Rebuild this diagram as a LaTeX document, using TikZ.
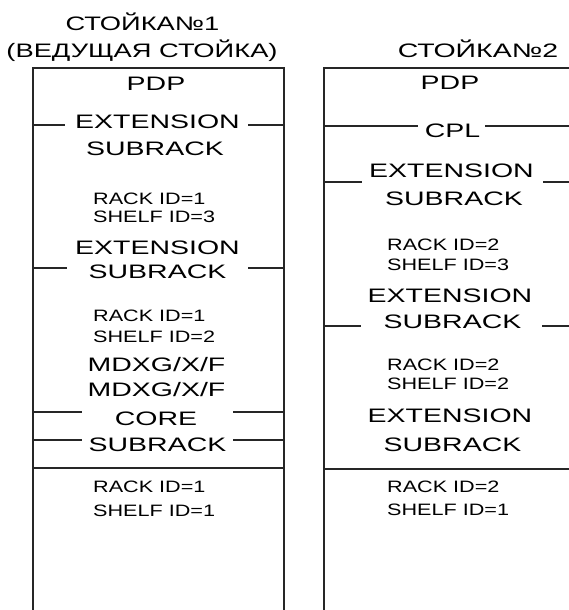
\documentclass[tikz,border=0pt]{standalone}
\usepackage{fontspec}
\setmainfont{Liberation Sans}
\newfontfamily\bigfam{Liberation Sans}[FakeStretch=1.46]
\newfontfamily\titlefam{Liberation Sans}[FakeStretch=1.40]
\newfontfamily\smallfam{Liberation Sans}[FakeStretch=1.31]
\begin{document}
\begin{tikzpicture}[x=1pt,y=-1pt,
  big/.style={font=\bigfam\fontsize{19.5}{23}\selectfont, inner sep=0pt, anchor=base, text=black},
  ttl/.style={font=\titlefam\fontsize{19.5}{23}\selectfont, inner sep=0pt, anchor=base, text=black},
  small/.style={font=\smallfam\fontsize{16.5}{20}\selectfont, inner sep=0pt, anchor=base west, text=black},
  frame/.style={line width=2.4pt, draw=black!85},
  div/.style={line width=1.7pt, draw=black!85}]
\useasboundingbox (0,0) rectangle (569,610);
\clip (0,0) rectangle (569,610);

% ---------- rack 1 ----------
\coordinate (r1bl) at (33,612);
\coordinate (r1tl) at (33,68);
\coordinate (r1tr) at (284,68);
\coordinate (r1br) at (284,612);
\draw[frame] (r1bl) -- (r1tl) -- (r1tr) -- (r1br);

\draw[div] (33,125) -- (65,125);  \draw[div] (248,125) -- (284,125);
\draw[div] (33,268) -- (67,268);  \draw[div] (248,268) -- (284,268);
\draw[div] (33,412) -- (82,412);  \draw[div] (233,412) -- (284,412);
\draw[div] (33,440) -- (82,440);  \draw[div] (233,440) -- (284,440);
\draw[div] (33,468) -- (284,468);

\node[ttl] (t1a) at (142.5,31) {СТОЙКА№1};
\node[ttl] (t1b) at (142,58) {(ВЕДУЩАЯ СТОЙКА)};
\node[big] (p1) at (156,90) {PDP};
\node[big] (e1a) at (157.5,128) {EXTENSION};
\node[big] (s1a) at (155,155) {SUBRACK};
\node[small] (r1a) at (93,204) {RACK ID=1};
\node[small] (h1a) at (93,222) {SHELF ID=3};
\node[big] (e1b) at (157.5,254) {EXTENSION};
\node[big] (s1b) at (157.5,278) {SUBRACK};
\node[small] (r1b) at (93,321) {RACK ID=1};
\node[small] (h1b) at (93,342) {SHELF ID=2};
\node[big] (m1a) at (156.5,371) {MDXG/X/F};
\node[big] (m1b) at (156.5,396) {MDXG/X/F};
\node[big] (c1) at (156,425) {CORE};
\node[big] (s1c) at (157.5,451) {SUBRACK};
\node[small] (r1c) at (93,492) {RACK ID=1};
\node[small] (h1c) at (93,516) {SHELF ID=1};

% ---------- rack 2 ----------
\coordinate (r2bl) at (324,612);
\coordinate (r2tl) at (324,68);
\coordinate (r2tr) at (571,68);
\draw[frame] (r2bl) -- (r2tl) -- (r2tr);

\draw[div] (324,126) -- (418,126);  \draw[div] (485,126) -- (571,126);
\draw[div] (324,182) -- (362,182);  \draw[div] (543,182) -- (571,182);
\draw[div] (324,326) -- (361,326);  \draw[div] (542,326) -- (571,326);
\draw[div] (324,469) -- (571,469);

\node[big] (t2) at (478,57.5) {СТОЙКА№2};
\node[big] (p2) at (450,89.5) {PDP};
\node[big] (cpl) at (452.5,137.5) {CPL};
\node[big] (e2a) at (451.5,177.5) {EXTENSION};
\node[big] (s2a) at (454,205) {SUBRACK};
\node[small] (r2a) at (387,250) {RACK ID=2};
\node[small] (h2a) at (387,270) {SHELF ID=3};
\node[big] (e2b) at (450,302) {EXTENSION};
\node[big] (s2b) at (452.5,328) {SUBRACK};
\node[small] (r2b) at (387,370) {RACK ID=2};
\node[small] (h2b) at (387,389) {SHELF ID=2};
\node[big] (e2c) at (450,422) {EXTENSION};
\node[big] (s2c) at (452.5,451) {SUBRACK};
\node[small] (r2c) at (387,492.5) {RACK ID=2};
\node[small] (h2c) at (387,515) {SHELF ID=1};
\end{tikzpicture}
\end{document}
